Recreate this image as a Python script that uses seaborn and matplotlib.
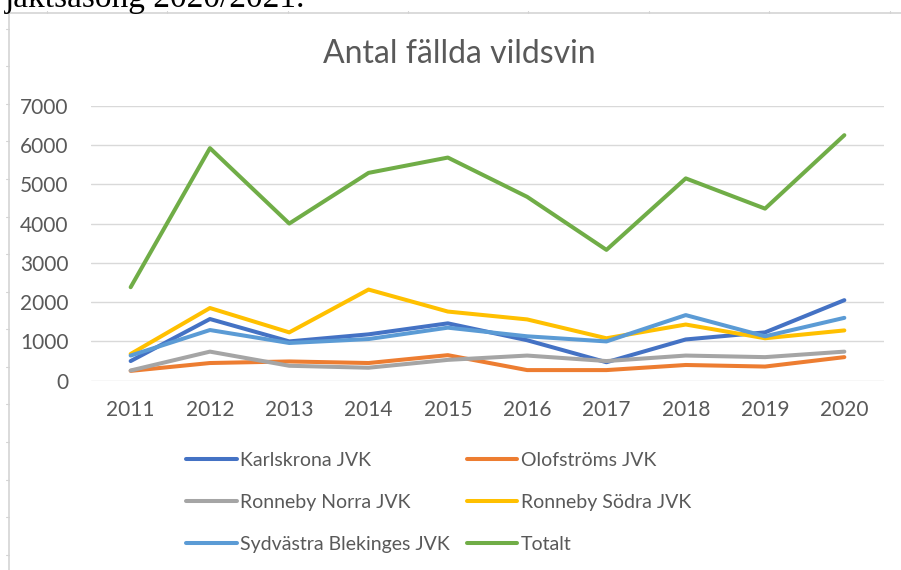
import numpy as np
import pandas as pd
import matplotlib
matplotlib.use("Agg")
import matplotlib.pyplot as plt
from matplotlib.lines import Line2D
import seaborn as sns

years = [2011, 2012, 2013, 2014, 2015, 2016, 2017, 2018, 2019, 2020]
karlskrona = [500, 1570, 1000, 1180, 1460, 1030, 470, 1050, 1230, 2050]
olofstrom = [250, 450, 490, 450, 650, 270, 270, 400, 360, 600]
ronneby_norra = [260, 740, 380, 330, 530, 640, 500, 640, 600, 740]
ronneby_sodra = [680, 1850, 1230, 2320, 1760, 1560, 1080, 1430, 1080, 1280]
sydvastra = [640, 1290, 960, 1060, 1350, 1130, 1000, 1670, 1130, 1600]
totalt = [2380, 5920, 4000, 5290, 5680, 4680, 3330, 5150, 4380, 6250]

series_names = ["Karlskrona JVK", "Olofströms JVK", "Ronneby Norra JVK",
                "Ronneby Södra JVK", "Sydvästra Blekinges JVK", "Totalt"]
colors = ["#4472C4", "#ED7D31", "#A5A5A5", "#FFC000", "#5B9BD5", "#70AD47"]
y_ticks = [0, 1000, 2000, 3000, 4000, 5000, 6000, 7000]

rows = []
for name, vals in zip(series_names, [karlskrona, olofstrom, ronneby_norra,
                                      ronneby_sodra, sydvastra, totalt]):
    for yr, v in zip(years, vals):
        rows.append({"year": yr, "value": v, "series": name})
df = pd.DataFrame(rows)

sns.set_theme(style="white")
plt.rcParams['font.family'] = ['Lato', 'DejaVu Sans']
text_col = "#595959"
grid_col = "#d9d9d9"

fig = plt.figure(figsize=(9.01, 5.70), dpi=100)
W, H = 901, 570
ax = fig.add_axes([91 / W, 1 - 380.7 / H, (884 - 91) / W, (380.7 - 105.7) / H])

sns.lineplot(data=df, x="year", y="value", hue="series", hue_order=series_names,
             palette=colors, linewidth=2.9, ax=ax, legend=False, sort=False)

ax.set_xlim(2010.5, 2020.5)
ax.set_ylim(0, 7000)
ax.set_yticks(y_ticks)
ax.set_xticks(years)
ax.set_xticklabels([str(y) for y in years])
ax.yaxis.grid(True, color=grid_col, linewidth=1.0)
ax.set_axisbelow(True)
for s in ax.spines.values():
    s.set_visible(False)
ax.tick_params(axis='both', length=0, labelsize=15, colors=text_col)
ax.tick_params(axis='y', pad=16)
ax.tick_params(axis='x', pad=14)
ax.set_xlabel("")
ax.set_ylabel("")

fig.text(459 / W, 1 - 54 / H, "Antal fällda vildsvin", ha='center', va='center',
         fontsize=23, color=text_col)

# legend, 3 rows x 2 columns filled row by row (matplotlib fills by column)
order = [0, 2, 4, 1, 3, 5]
handles = [Line2D([0], [0], color=colors[i], lw=2.9) for i in order]
labels = [series_names[i] for i in order]
fig.legend(handles, labels, ncol=2, loc='upper left',
           bbox_to_anchor=(186 / W, 1 - 451.5 / H), frameon=False,
           fontsize=14, labelcolor=text_col, handlelength=2.6,
           handletextpad=0.2, columnspacing=0.85, labelspacing=1.3,
           borderaxespad=0, borderpad=0)

# surrounding page frame
frame_col = "#d4d4d4"
fig.add_artist(Line2D([8.5 / W, 8.5 / W], [0, 1 - 13 / H], color=frame_col,
                      lw=1.2, transform=fig.transFigure))
fig.add_artist(Line2D([8 / W, 1], [1 - 13 / H, 1 - 13 / H], color=frame_col,
                      lw=1.2, transform=fig.transFigure))
for ty in np.arange(28.5, H, 37.6):
    fig.add_artist(Line2D([5.5 / W, 8.5 / W], [1 - ty / H, 1 - ty / H],
                          color=frame_col, lw=0.8, transform=fig.transFigure))
for tx in np.arange(46.7, W, 120.4):
    fig.add_artist(Line2D([tx / W, tx / W], [1 - 13 / H, 1 - 10.5 / H],
                          color=frame_col, lw=0.8, transform=fig.transFigure))

fig.text(5 / W, 1 - 7 / H, "jaktsäsong 2020/2021.", ha='left', va='baseline',
         fontsize=24, color="black", family=['Liberation Serif', 'DejaVu Serif'])

fig.savefig("out.png", dpi=100)
